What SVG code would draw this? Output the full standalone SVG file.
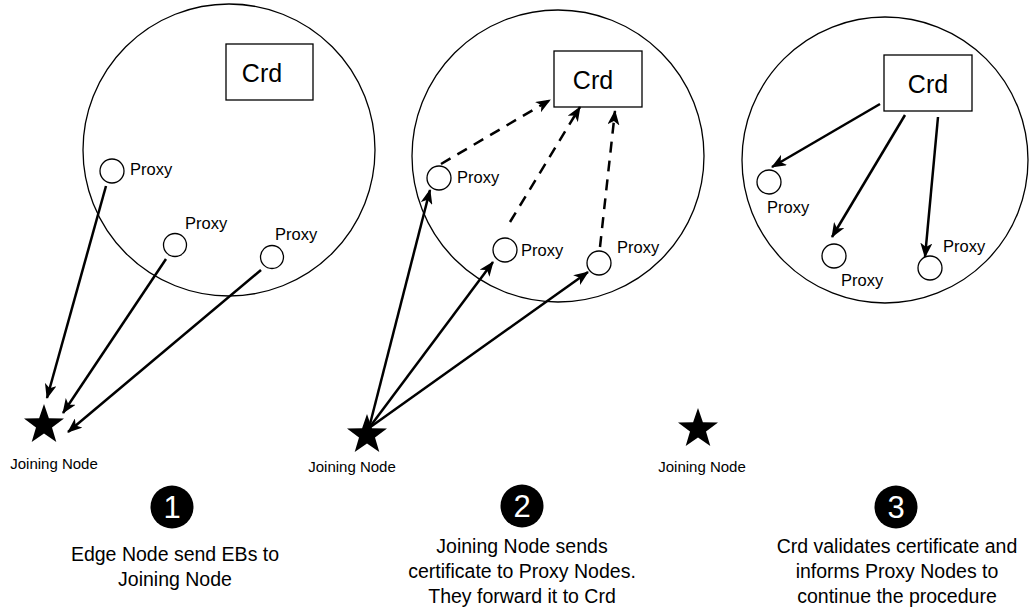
<svg xmlns="http://www.w3.org/2000/svg" width="1029" height="612" viewBox="0 0 1029 612">
  <style>
    .zone { fill: none; stroke: #000; stroke-width: 1.3; }
    .crd { fill: #fff; stroke: #000; stroke-width: 1.3; }
    .proxy { fill: #fff; stroke: #000; stroke-width: 1.3; }
    .t { font-family: "Liberation Sans", Arial, sans-serif; fill: #000; }
    .crdtxt { font-size: 25px; text-anchor: middle; }
    .plabel { font-size: 16.5px; }
    .jlabel { font-size: 15px; text-anchor: middle; }
    .cap { font-size: 19.5px; text-anchor: middle; }
    .num { font-size: 31px; text-anchor: middle; fill: #fff; }
    .edge { fill: none; stroke: #000; stroke-width: 2.5; marker-end: url(#arrow); }
    .dash { stroke-dasharray: 11 8; }
  </style>
  <defs>
    <marker id="arrow" viewBox="0 0 15 12" refX="14" refY="6" markerWidth="15" markerHeight="12" markerUnits="userSpaceOnUse" orient="auto">
      <path d="M0,0 L15,6 L0,12 L4,6 Z" fill="#000"/>
    </marker>
    <polygon id="star" points="0,-21 4.9,-6.8 20,-6.5 8,2.6 12.3,17 0,8.5 -12.3,17 -8,2.6 -20,-6.5 -4.9,-6.8" fill="#000"/>
  </defs>

  <!-- Step 1: proxies send EBs to the joining node -->
  <g id="zone1">
    <circle class="zone" cx="229" cy="150" r="146"/>
  </g>
  <g id="crd1">
    <rect class="crd" x="226" y="44" width="87" height="56"/>
    <text class="t crdtxt" x="262" y="82">Crd</text>
  </g>
  <g id="proxy1a">
    <circle class="proxy" cx="112" cy="171" r="12"/>
    <text class="t plabel" x="130" y="175">Proxy</text>
  </g>
  <g id="proxy1b">
    <circle class="proxy" cx="175" cy="245" r="11.5"/>
    <text class="t plabel" x="185" y="229">Proxy</text>
  </g>
  <g id="proxy1c">
    <circle class="proxy" cx="272" cy="257" r="11.5"/>
    <text class="t plabel" x="275" y="240">Proxy</text>
  </g>
  <g id="join1">
    <use href="#star" x="44" y="425"/>
    <text class="t jlabel" x="54" y="469">Joining Node</text>
  </g>

  <!-- Step 2: certificate to proxies, forwarded to Crd -->
  <g id="zone2">
    <circle class="zone" cx="558" cy="156" r="146"/>
  </g>
  <g id="crd2">
    <rect class="crd" x="554" y="51" width="88" height="56"/>
    <text class="t crdtxt" x="593" y="89">Crd</text>
  </g>
  <g id="proxy2a">
    <circle class="proxy" cx="439" cy="178" r="12"/>
    <text class="t plabel" x="457" y="183">Proxy</text>
  </g>
  <g id="proxy2b">
    <circle class="proxy" cx="505" cy="250" r="12"/>
    <text class="t plabel" x="521" y="256">Proxy</text>
  </g>
  <g id="proxy2c">
    <circle class="proxy" cx="599" cy="263" r="12"/>
    <text class="t plabel" x="617" y="253">Proxy</text>
  </g>

  <!-- Step 3: Crd informs the proxies -->
  <g id="zone3">
    <circle class="zone" cx="885" cy="160" r="143"/>
  </g>
  <g id="crd3">
    <rect class="crd" x="884" y="55" width="88" height="56"/>
    <text class="t crdtxt" x="928" y="93">Crd</text>
  </g>
  <g id="proxy3a">
    <circle class="proxy" cx="769" cy="182" r="12"/>
    <text class="t plabel" x="767" y="213">Proxy</text>
  </g>
  <g id="proxy3b">
    <circle class="proxy" cx="834" cy="256" r="12"/>
    <text class="t plabel" x="841" y="286">Proxy</text>
  </g>
  <g id="proxy3c">
    <circle class="proxy" cx="930" cy="268" r="12"/>
    <text class="t plabel" x="943" y="252">Proxy</text>
  </g>

  <g id="connectors">
    <!-- step 1 -->
    <line class="edge" x1="106" y1="186" x2="47" y2="398"/>
    <line class="edge" x1="166" y1="259" x2="63" y2="413"/>
    <line class="edge" x1="261" y1="270" x2="68" y2="432"/>
    <!-- step 2 -->
    <line class="edge" x1="369" y1="428" x2="430" y2="190"/>
    <line class="edge" x1="369" y1="428" x2="493" y2="262"/>
    <line class="edge" x1="369" y1="428" x2="588" y2="272"/>
    <line class="edge dash" x1="441" y1="164" x2="550" y2="100"/>
    <line class="edge dash" x1="510" y1="222" x2="580" y2="107"/>
    <line class="edge dash" x1="600" y1="247" x2="615" y2="111"/>
    <!-- step 3 -->
    <line class="edge" x1="880" y1="104" x2="772" y2="167"/>
    <line class="edge" x1="905" y1="115" x2="832" y2="237"/>
    <line class="edge" x1="938" y1="117" x2="925" y2="257"/>
  </g>

  <g id="join2">
    <use href="#star" x="367" y="435"/>
    <text class="t jlabel" x="352" y="472">Joining Node</text>
  </g>
  <g id="join3">
    <use href="#star" x="698" y="429"/>
    <text class="t jlabel" x="702" y="472">Joining Node</text>
  </g>

  <!-- step captions -->
  <g id="step1">
    <circle cx="172" cy="507" r="21.5" fill="#000"/>
    <text class="t num" x="172" y="518">1</text>
    <text class="t cap" x="175" y="561">Edge Node send EBs to</text>
    <text class="t cap" x="175" y="586">Joining Node</text>
  </g>
  <g id="step2">
    <circle cx="522" cy="506" r="21.5" fill="#000"/>
    <text class="t num" x="522" y="517">2</text>
    <text class="t cap" x="522" y="553">Joining Node sends</text>
    <text class="t cap" x="522" y="578">certificate to Proxy Nodes.</text>
    <text class="t cap" x="522" y="603">They forward it to Crd</text>
  </g>
  <g id="step3">
    <circle cx="896" cy="507" r="21.5" fill="#000"/>
    <text class="t num" x="896" y="518">3</text>
    <text class="t cap" x="897" y="553">Crd validates certificate and</text>
    <text class="t cap" x="897" y="578">informs Proxy Nodes to</text>
    <text class="t cap" x="897" y="603">continue the procedure</text>
  </g>
</svg>
